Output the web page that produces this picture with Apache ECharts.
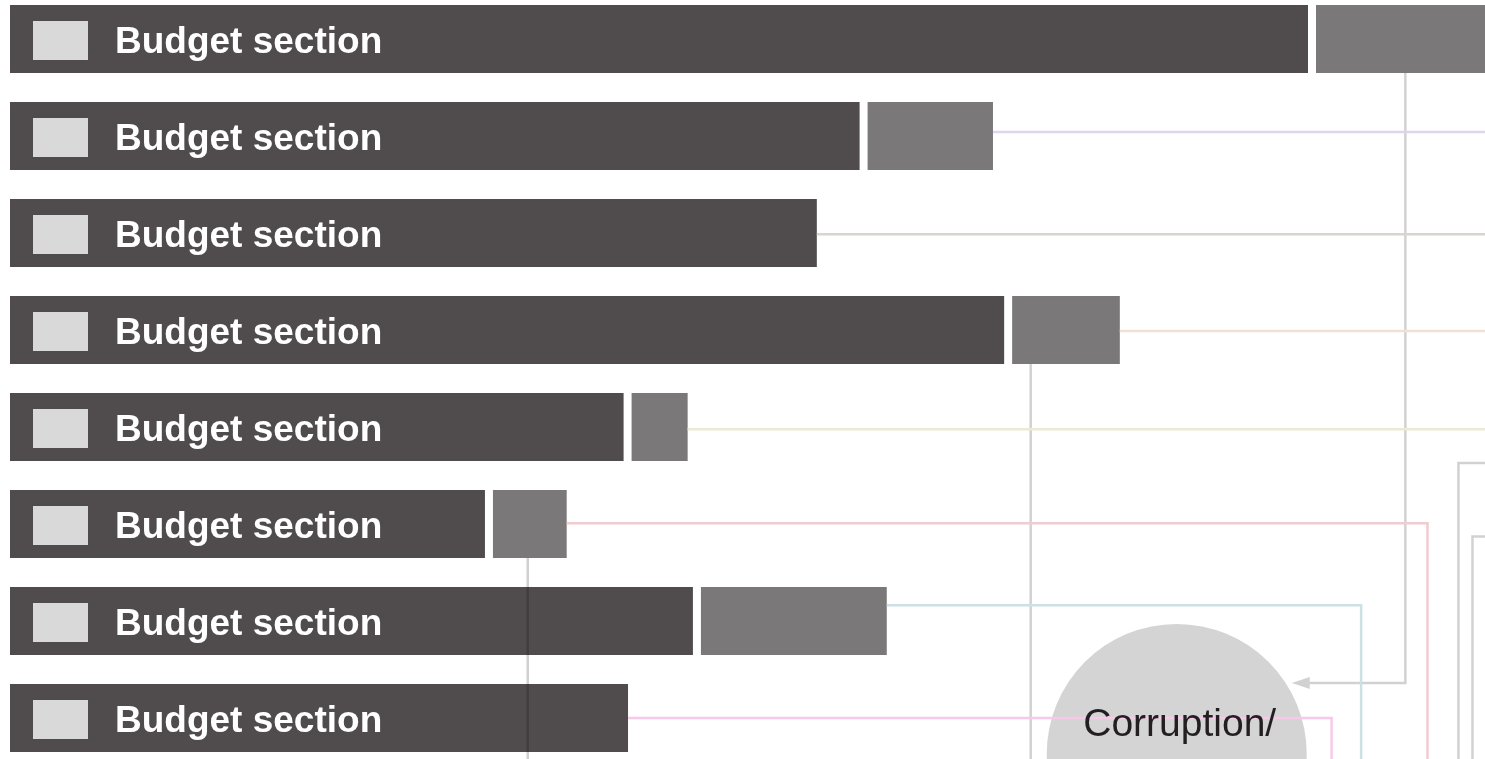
<!DOCTYPE html>
<html>
<head>
<meta charset="utf-8">
<script src="https://cdn.jsdelivr.net/npm/echarts@6/dist/echarts.min.js"></script>
<style>
html,body{margin:0;padding:0;background:#ffffff;overflow:hidden}
#chart{width:1485px;height:759px}
</style>
</head>
<body>
<div id="chart"></div>
<script>
// ---- data ----
const categories = ['Budget section','Budget section','Budget section','Budget section',
                    'Budget section','Budget section','Budget section','Budget section'];
const baseValues  = [88.0, 57.6, 54.7, 67.4, 41.6, 32.2, 46.3, 41.9];
const extraValues = [12.0, 8.5, 0, 7.3, 3.8, 5.0, 12.6, 0];
// coloured connector leaving each bar; null = none
const lineColors = [null, '#e1d5e9', '#d9d5cc', '#f1e1d5', '#ecead2', '#f0cbcf', '#cde0e5', '#f8c8e8'];
// row position (value units) at which each connector runs
const lineRowY   = [null, 0.96, 2.013, 3.01, 4.024, 4.993, 5.838, 7.0];
// x (value units) where a connector turns downward; null = runs off to the right
const lineDropX  = [null, null, null, null, null, 96.1, 91.6, 89.6];
// grey feed leaving the extra bar downward (x in value units); null = none
const feedDropX  = [94.6, null, null, 69.2, null, 35.1, null, null];
// row (value units) where a feed turns toward the hub; null = runs to bottom
const feedTurnY  = [6.64, null, null, null, null, null, null, null];
// grey feeds entering from beyond the right edge
const offFeedY   = [4.37, 5.13];
const offFeedX   = [98.2, 99.15];
// hub node
const hubLabel = 'Corruption/';
const hubX = 79.1, hubY = 7.37;

// ---- styles ----
const DARK = '#504c4d', GREY = '#7a7878', SQUARE = '#d9d9d9';
const FEED = 'rgba(0,0,0,0.18)';
const GAP = 8, HUB_R = 130, LW = 2.5;

const chart = echarts.init(document.getElementById('chart'), null, {renderer: 'canvas'});

function barEnd(api, i) {
  const p1 = api.coord([baseValues[i], i]);
  if (extraValues[i] > 0) return p1[0] + GAP + api.size([extraValues[i], 0])[0];
  return p1[0];
}

function renderBars(params, api) {
  const i = api.value(0);
  const base = api.value(1), extra = api.value(2);
  const p0 = api.coord([0, i]);
  const p1 = api.coord([base, i]);
  const band = Math.abs(api.size([0, 1])[1]);
  const h = band * 0.70;
  const top = p0[1] - h / 2;
  const children = [
    {type: 'rect', shape: {x: p0[0], y: top, width: p1[0] - p0[0], height: h}, style: {fill: DARK}},
    {type: 'rect', shape: {x: p0[0] + 23, y: p0[1] - 18, width: 55, height: 39}, style: {fill: SQUARE}},
    {type: 'text', style: {text: categories[i], x: p0[0] + 105, y: p0[1] + 4,
      verticalAlign: 'middle', align: 'left', fill: '#ffffff',
      fontSize: 37, fontWeight: 'bold', fontFamily: '"Liberation Sans", Arial, Helvetica, sans-serif'}}
  ];
  if (extra > 0) {
    const w = api.size([extra, 0])[0];
    children.push({type: 'rect', shape: {x: p1[0] + GAP, y: top, width: w, height: h}, style: {fill: GREY}});
  }
  return {type: 'group', children};
}

function renderConnectors(params, api) {
  const i = api.value(0);
  const p0 = api.coord([0, i]);
  const band = Math.abs(api.size([0, 1])[1]);
  const h = band * 0.70;
  const W = api.getWidth(), H = api.getHeight();
  const children = [];
  if (lineColors[i]) {
    const sx = barEnd(api, i);
    const ly = api.coord([0, lineRowY[i]])[1];
    let pts;
    if (lineDropX[i] != null) {
      const dx = api.coord([lineDropX[i], i])[0];
      pts = [[sx, ly], [dx, ly], [dx, H + 10]];
    } else {
      pts = [[sx, ly], [W + 10, ly]];
    }
    children.push({type: 'polyline', shape: {points: pts}, style: {stroke: lineColors[i], lineWidth: LW, fill: null}});
  }
  if (feedDropX[i] != null) {
    const fx = api.coord([feedDropX[i], i])[0];
    const y0 = p0[1] + h / 2;
    if (feedTurnY[i] != null) {
      const ty = api.coord([0, feedTurnY[i]])[1];
      const c = api.coord([hubX, hubY]);
      const dy = ty - c[1];
      const bx = c[0] + Math.sqrt(Math.max(0, HUB_R * HUB_R - dy * dy));
      const tip = bx + 6, base = tip + 18;
      children.push({type: 'polyline', shape: {points: [[fx, y0], [fx, ty], [base, ty]]}, style: {stroke: FEED, lineWidth: LW, fill: null}});
      children.push({type: 'polygon', shape: {points: [[tip, ty], [base, ty - 6], [base, ty + 6]]}, style: {fill: FEED}});
    } else {
      children.push({type: 'line', shape: {x1: fx, y1: y0, x2: fx, y2: H + 10}, style: {stroke: FEED, lineWidth: LW}});
    }
  }
  return {type: 'group', children};
}

function renderOffFeeds(params, api) {
  const y = api.coord([0, api.value(1)])[1];
  const x = api.coord([api.value(0), 0])[0];
  const W = api.getWidth(), H = api.getHeight();
  return {type: 'polyline', shape: {points: [[W + 10, y], [x, y], [x, H + 10]]}, style: {stroke: FEED, lineWidth: LW, fill: null}};
}

function renderHub(params, api) {
  const c = api.coord([api.value(0), api.value(1)]);
  return {type: 'circle', shape: {cx: c[0], cy: c[1], r: HUB_R}, style: {fill: '#d4d4d4'}};
}
function renderHubText(params, api) {
  const c = api.coord([api.value(0), api.value(1)]);
  return {type: 'text', style: {text: hubLabel, x: c[0] + 3, y: c[1] - 29, align: 'center', verticalAlign: 'middle',
    fill: '#231f20', fontSize: 39, fontWeight: 'normal', fontFamily: '"Liberation Sans", Arial, Helvetica, sans-serif'}};
}

const rows = categories.map((c, i) => [i, baseValues[i], extraValues[i]]);

chart.setOption({
  animation: false,
  backgroundColor: '#ffffff',
  grid: {left: 10, right: 0, top: 39, bottom: 41, containLabel: false},
  xAxis: {type: 'value', min: 0, max: 100, show: false},
  yAxis: {type: 'value', min: 0, max: 7, inverse: true, show: false},
  series: [
    {type: 'custom', name: 'bars', z: 1, clip: false, renderItem: renderBars, data: rows, encode: {x: [1, 2], y: 0}},
    {type: 'custom', name: 'hub', z: 2, clip: false, renderItem: renderHub, data: [[hubX, hubY]], encode: {x: 0, y: 1}},
    {type: 'custom', name: 'connectors', z: 3, clip: false, renderItem: renderConnectors, data: rows, encode: {x: 1, y: 0}},
    {type: 'custom', name: 'offFeeds', z: 3, clip: false, renderItem: renderOffFeeds,
      data: offFeedY.map((y, k) => [offFeedX[k], y]), encode: {x: 0, y: 1}},
    {type: 'custom', name: 'hubText', z: 4, clip: false, renderItem: renderHubText, data: [[hubX, hubY]], encode: {x: 0, y: 1}}
  ]
});
</script>
</body>
</html>
